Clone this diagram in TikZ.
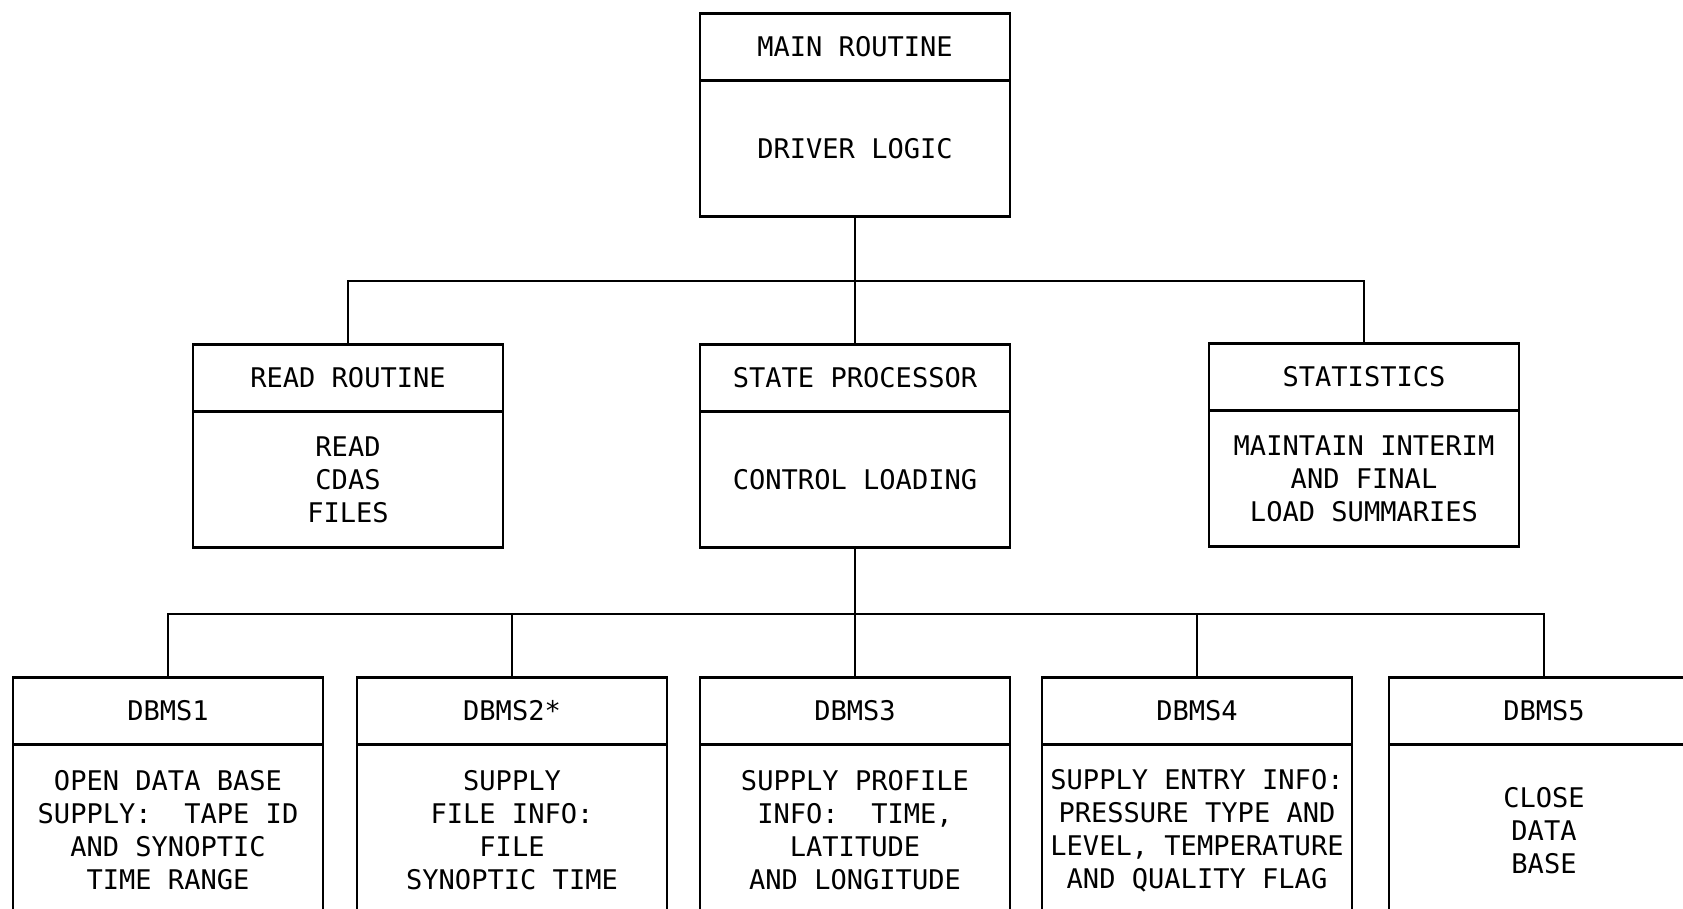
\documentclass[tikz,border=0pt]{standalone}
\usepackage{fontspec}
\setmonofont{DejaVu Sans Mono}
\usepackage{tikz}
\usetikzlibrary{positioning}

\begin{document}
\begin{tikzpicture}[x=0.02cm, y=-0.02cm, line width=1.5pt,
  head/.style={draw, minimum width=6.2cm, minimum height=1.34cm, inner sep=0pt, outer sep=0pt,
    font=\ttfamily\fontsize{15.4}{18.8}\selectfont},
  body/.style={head, minimum height=2.72cm, align=center},
  lowbody/.style={body, minimum height=3.44cm}]
\useasboundingbox (0,0) rectangle (1683,909);
\clip (0,0) rectangle (1683,909);
\node[head] (mainhead) at (855,47) {MAIN ROUTINE};
\node[body, below=0pt of mainhead] (mainbody) {DRIVER LOGIC};
\node[head] (readhead) at (348,378) {READ ROUTINE};
\node[body, below=0pt of readhead] (readbody) {READ\\CDAS\\FILES};
\node[head] (statehead) at (855,378) {STATE PROCESSOR};
\node[body, below=0pt of statehead] (statebody) {CONTROL LOADING};
\node[head] (statshead) at (1364,377) {STATISTICS};
\node[body, below=0pt of statshead] (statsbody) {MAINTAIN INTERIM\\AND FINAL\\LOAD SUMMARIES};
\node[head] (d1head) at (168,711) {DBMS1};
\node[lowbody, below=0pt of d1head] (d1body) {OPEN DATA BASE\\SUPPLY:~~TAPE ID\\AND SYNOPTIC\\TIME RANGE};
\node[head] (d2head) at (512,711) {DBMS2*};
\node[lowbody, below=0pt of d2head] (d2body) {SUPPLY\\FILE INFO:\\FILE\\SYNOPTIC TIME};
\node[head] (d3head) at (855,711) {DBMS3};
\node[lowbody, below=0pt of d3head] (d3body) {SUPPLY PROFILE\\INFO:~~TIME,\\LATITUDE\\AND LONGITUDE};
\node[head] (d4head) at (1197,711) {DBMS4};
\node[lowbody, below=0pt of d4head] (d4body) {SUPPLY ENTRY INFO:\\PRESSURE TYPE AND\\LEVEL, TEMPERATURE\\AND QUALITY FLAG};
\node[head] (d5head) at (1544,711) {DBMS5};
\node[lowbody, below=0pt of d5head] (d5body) {CLOSE\\DATA\\BASE};
\coordinate (bus1) at (855,281);
\coordinate (bus2) at (855,614);
\draw (mainbody.south) -- (statehead.north);
\draw (readhead.north) |- (bus1) -| (statshead.north);
\draw (statebody.south) -- (d3head.north);
\draw (d1head.north) |- (bus2) -| (d5head.north);
\foreach \n in {d2head, d4head}
  \draw (\n.north) -- (\n.north |- bus2);
\end{tikzpicture}
\end{document}
